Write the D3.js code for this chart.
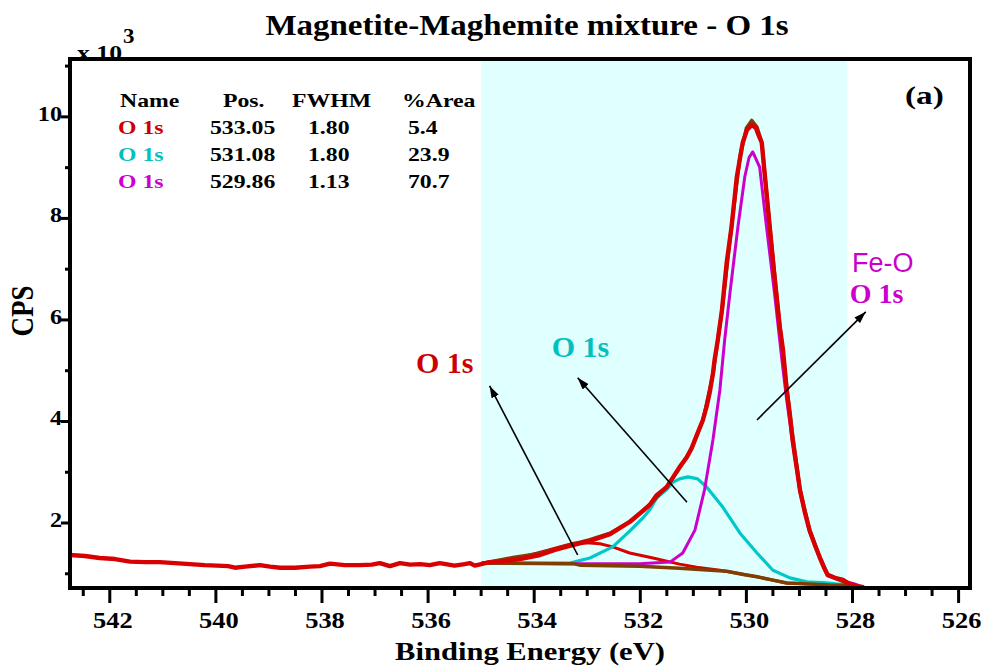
<!DOCTYPE html>
<html>
<head>
<meta charset="utf-8">
<script src="https://cdn.jsdelivr.net/npm/d3@7"></script>
<style>
  body { margin: 0; background: #fff; }
  svg { display: block; }
</style>
</head>
<body>
<svg id="chart"></svg>
<script>
// spectrum: [binding energy (eV), CPS x 10^3]
const rawSpectrum = [
  [542.75,1.37],[542.47,1.35],[542.19,1.31],[541.90,1.29],[541.62,1.24],[541.34,1.23],
  [541.06,1.23],[540.77,1.21],[540.49,1.19],[540.21,1.17],[539.98,1.16],[539.77,1.15],
  [539.64,1.12],[539.45,1.14],[539.17,1.17],[538.98,1.14],[538.79,1.12],[538.51,1.12],
  [538.23,1.14],[538.04,1.15],[537.85,1.20],[537.57,1.17],[537.29,1.17],[537.06,1.18],
  [536.91,1.21],[536.72,1.15],[536.53,1.21],[536.34,1.18],[536.15,1.19],[535.97,1.17],
  [535.78,1.21],[535.50,1.16],[535.31,1.19],[535.21,1.21],[535.12,1.16],[534.84,1.23],
  [534.65,1.24],[534.27,1.29],[533.89,1.37],[533.61,1.47],[533.33,1.55],[532.95,1.65],
  [532.57,1.78],[532.20,2.02],[531.95,2.24],[531.82,2.36],[531.69,2.55],[531.50,2.71],
  [531.39,2.89],[531.26,3.10],[531.12,3.30],[531.03,3.48],[530.92,3.77],[530.82,4.03],
  [530.75,4.29],[530.69,4.58],[530.63,4.95],[530.60,5.21],[530.54,5.60],[530.46,6.20],
  [530.37,7.14],[530.28,7.83],[530.18,8.82],[530.12,9.19],[530.07,9.49],[529.99,9.74],
  [529.90,9.84],[529.82,9.78],[529.77,9.64],[529.71,9.49],[529.65,8.82],[529.56,7.83],
  [529.47,6.85],[529.37,5.86],[529.31,5.41],[529.24,4.62],[529.18,4.13],[529.13,3.64],
  [529.05,3.08],[528.99,2.65],[528.90,2.22],[528.81,1.86],[528.71,1.57],[528.62,1.33],
  [528.54,1.13],[528.47,0.98],[528.33,0.92],[528.18,0.88],[528.09,0.82],[528.00,0.78],
  [527.90,0.75],[527.81,0.74]
];

// fit envelope (brown, mostly hidden under the data)
const fitEnvelope = [
  [534.97,1.21],[534.40,1.32],[533.90,1.40],[533.60,1.49],[533.30,1.58],[532.95,1.67],
  [532.57,1.80],[532.20,2.03],[531.82,2.36],[531.50,2.72],[531.26,3.08],[531.03,3.47],
  [530.82,4.02],[530.63,4.93],[530.46,6.18],[530.28,7.85],[530.12,9.22],[530.00,9.78],
  [529.90,9.93],[529.80,9.80],[529.71,9.50],[529.56,7.85],[529.37,5.88],[529.18,4.14],
  [528.99,2.66],[528.81,1.87],[528.62,1.34],[528.47,0.99],[528.30,0.90],[528.07,0.80]
];

const shirleyBg = [
  [534.97,1.21],[533.27,1.20],[533.14,1.17],[532.01,1.15],[531.26,1.11],[530.37,1.05],
  [530.03,0.98],[529.80,0.94],[529.52,0.88],[529.24,0.82],[528.81,0.80],[528.43,0.78],
  [528.07,0.77]
];

const peak533 = [
  [534.97,1.21],[534.65,1.24],[534.40,1.29],[534.08,1.37],[533.76,1.46],[533.52,1.53],
  [533.27,1.60],[533.01,1.61],[532.76,1.59],[532.52,1.53],[532.20,1.41],[531.76,1.31],
  [531.26,1.19],[530.94,1.13],[530.50,1.07],[529.80,0.94],[529.24,0.82],[528.07,0.77]
];

const peak531 = [
  [534.97,1.21],[533.33,1.21],[532.95,1.31],[532.52,1.53],[532.20,1.84],[531.95,2.10],
  [531.82,2.26],[531.69,2.50],[531.50,2.66],[531.39,2.80],[531.26,2.87],[531.10,2.91],
  [530.92,2.87],[530.75,2.71],[530.45,2.32],[530.12,1.80],[529.80,1.41],[529.50,1.07],
  [529.18,0.92],[528.86,0.84],[528.49,0.82],[528.07,0.77]
];

const peak530 = [
  [534.97,1.21],[533.30,1.20],[532.01,1.20],[531.44,1.23],[531.20,1.41],[530.97,1.86],
  [530.79,2.65],[530.63,3.64],[530.50,4.62],[530.41,5.60],[530.31,6.53],[530.16,7.83],
  [530.03,8.82],[529.95,9.20],[529.88,9.31],[529.75,9.01],[529.62,7.83],[529.47,6.53],
  [529.33,5.21],[529.24,4.42],[529.13,3.60],[528.99,2.61],[528.81,1.82],[528.62,1.31],
  [528.47,0.96],[528.18,0.86],[527.96,0.80],[527.81,0.74]
];

const regionEV = [535.0, 528.1];

const xMajor = [542, 540, 538, 536, 534, 532, 530, 528, 526];
const xMinor = [542.5,541.5,541,540.5,539.5,539,538.5,537.5,537,536.5,535.5,535,534.5,
                533.5,533,532.5,531.5,531,530.5,529.5,529,528.5,527.5,527,526.5];
const yMajor = [2, 4, 6, 8, 10];
const yMinor = [1, 3, 5, 7, 9, 11];

// quantification table
const tableHead = ["Name", "Pos.", "FWHM", "%Area"];
const tableName = ["O 1s", "O 1s", "O 1s"];
const tablePos = ["533.05", "531.08", "529.86"];
const tableFwhm = ["1.80", "1.80", "1.13"];
const tableArea = ["5.4", "23.9", "70.7"];

// arrows: [tailEV, tailCPS, tipEV, tipCPS]
const arrows = [
  [533.18, 1.37, 534.84, 4.70],
  [531.12, 2.41, 533.18, 4.86],
  [529.80, 4.03, 527.75, 6.16]
];

let width = 987, height = 667;
let plot = {left: 70, right: 970, top: 59, bottom: 588};

let red = "#d80000", cyan = "#00c8c8", magenta = "#cc00cc", brown = "#7f3f00";
let serif = "'Liberation Serif','Times New Roman',serif";
let sans = "'Liberation Sans',Arial,sans-serif";

const svg = d3.select("#chart").attr("width", width).attr("height", height);

let x = d3.scaleLinear().domain([542.75, 525.785]).range([plot.left, plot.right]);
let y = d3.scaleLinear().domain([0.72, 11.14]).range([plot.bottom, plot.top]);

// text helper: the reference text looks stretched sideways
function label(g, px, py, s, size, sx, color, anchor, family) {
  return g.append("text")
    .attr("transform", "translate(" + px + "," + py + ") scale(" + sx + ",1)")
    .attr("font-family", family || serif)
    .attr("font-weight", "bold")
    .attr("font-size", size)
    .attr("fill", color || "#000")
    .attr("text-anchor", anchor || "start")
    .text(s);
}

svg.append("rect")
  .attr("x", plot.left).attr("y", plot.top)
  .attr("width", plot.right - plot.left).attr("height", plot.bottom - plot.top)
  .attr("fill", "#fff");

// fit region shading
svg.append("rect")
  .attr("x", x(regionEV[0])).attr("y", plot.top)
  .attr("width", x(regionEV[1]) - x(regionEV[0]))
  .attr("height", plot.bottom - plot.top)
  .attr("fill", "#e0ffff");

svg.append("defs").append("clipPath").attr("id", "clip")
  .append("rect")
  .attr("x", plot.left).attr("y", plot.top)
  .attr("width", plot.right - plot.left).attr("height", plot.bottom - plot.top);

let line = d3.line().x(d => x(d[0])).y(d => y(d[1]));
let curves = svg.append("g").attr("clip-path", "url(#clip)").attr("fill", "none")
  .attr("stroke-linejoin", "round").attr("stroke-linecap", "round");

curves.append("path").datum(peak533).attr("d", line).attr("stroke", red).attr("stroke-width", 3);
curves.append("path").datum(peak531).attr("d", line).attr("stroke", cyan).attr("stroke-width", 3.2);
curves.append("path").datum(peak530).attr("d", line).attr("stroke", magenta).attr("stroke-width", 3);
curves.append("path").datum(shirleyBg).attr("d", line).attr("stroke", brown).attr("stroke-width", 3.5);
curves.append("path").datum(fitEnvelope).attr("d", line).attr("stroke", brown).attr("stroke-width", 3.5);
curves.append("path").datum(rawSpectrum).attr("d", line).attr("stroke", red).attr("stroke-width", 4.4);

// arrows
svg.append("defs").append("marker")
  .attr("id", "head")
  .attr("viewBox", "0 0 12 8")
  .attr("refX", 12).attr("refY", 4)
  .attr("markerWidth", 12).attr("markerHeight", 8)
  .attr("markerUnits", "userSpaceOnUse")
  .attr("orient", "auto")
  .append("path").attr("d", "M0,0 L12,4 L0,8 Z").attr("fill", "#000");

svg.selectAll(".arrow")
  .data(arrows)
  .enter()
  .append("line")
  .attr("class", "arrow")
  .attr("x1", d => x(d[0])).attr("y1", d => y(d[1]))
  .attr("x2", d => x(d[2])).attr("y2", d => y(d[3]))
  .attr("stroke", "#000").attr("stroke-width", 1.6)
  .attr("marker-end", "url(#head)");

// peak labels
label(svg, x(536.23), y(4.95), "O 1s", 30, 1, "#cc0000");
label(svg, x(533.67), y(5.27), "O 1s", 30, 1, "#00c0c0");
svg.append("text")
  .attr("x", x(528.01)).attr("y", y(6.94))
  .attr("font-family", sans).attr("font-size", 27)
  .attr("fill", magenta)
  .text("Fe-O");
label(svg, x(528.05), y(6.33), "O 1s", 28, 1, magenta);

// table
let tableCols = [120, 223, 292, 402];
tableHead.forEach(function(h, i) {
  label(svg, tableCols[i], 107, h, 19, 1.25);
});
let rowColors = ["#cc0000", "#00c0c0", magenta];
tableName.forEach(function(n, i) {
  let by = 134 + 27 * i;
  label(svg, 118, by, n, 19, 1.25, rowColors[i]);
  label(svg, 210, by, tablePos[i], 19, 1.25);
  label(svg, 308, by, tableFwhm[i], 19, 1.25);
  label(svg, 408, by, tableArea[i], 19, 1.25);
});

label(svg, 905, 104, "(a)", 26, 1.28);

// ticks
let ticks = svg.append("g").attr("stroke", "#000").attr("stroke-width", 3);
ticks.selectAll(".xmaj").data(xMajor).enter().append("line")
  .attr("x1", d => x(d)).attr("x2", d => x(d))
  .attr("y1", plot.bottom).attr("y2", plot.bottom + 15);
ticks.selectAll(".xmin").data(xMinor).enter().append("line")
  .attr("x1", d => x(d)).attr("x2", d => x(d))
  .attr("y1", plot.bottom).attr("y2", plot.bottom + 8);
ticks.selectAll(".ymaj").data(yMajor).enter().append("line")
  .attr("x1", plot.left - 9).attr("x2", plot.left)
  .attr("y1", d => y(d)).attr("y2", d => y(d));
ticks.selectAll(".ymin").data(yMinor).enter().append("line")
  .attr("x1", plot.left - 5).attr("x2", plot.left)
  .attr("y1", d => y(d)).attr("y2", d => y(d));

xMajor.forEach(function(v) {
  label(svg, x(v) + 3, 628, d3.format("d")(v), 23, 1.15, "#000", "middle");
});
yMajor.forEach(function(v) {
  label(svg, 62, y(v) + 4, d3.format("d")(v), 22, 1.1, "#000", "end");
});

// multiplier above the axis, its foot touches the frame
label(svg, 77, 60, "x 10", 22, 1.17);
label(svg, 123, 43, "3", 20, 1.15);

// frame
svg.append("rect")
  .attr("x", plot.left).attr("y", plot.top)
  .attr("width", plot.right - plot.left).attr("height", plot.bottom - plot.top)
  .attr("fill", "none").attr("stroke", "#000").attr("stroke-width", 4);

// titles
label(svg, 527, 35, "Magnetite-Maghemite mixture - O 1s", 30, 1.1, "#000", "middle");
label(svg, 530, 660, "Binding Energy (eV)", 26, 1.175, "#000", "middle");
svg.append("text")
  .attr("transform", "translate(33,311) scale(1.2,1) rotate(-90)")
  .attr("font-family", serif).attr("font-weight", "bold").attr("font-size", 27)
  .attr("text-anchor", "middle")
  .text("CPS");
</script>
</body>
</html>
